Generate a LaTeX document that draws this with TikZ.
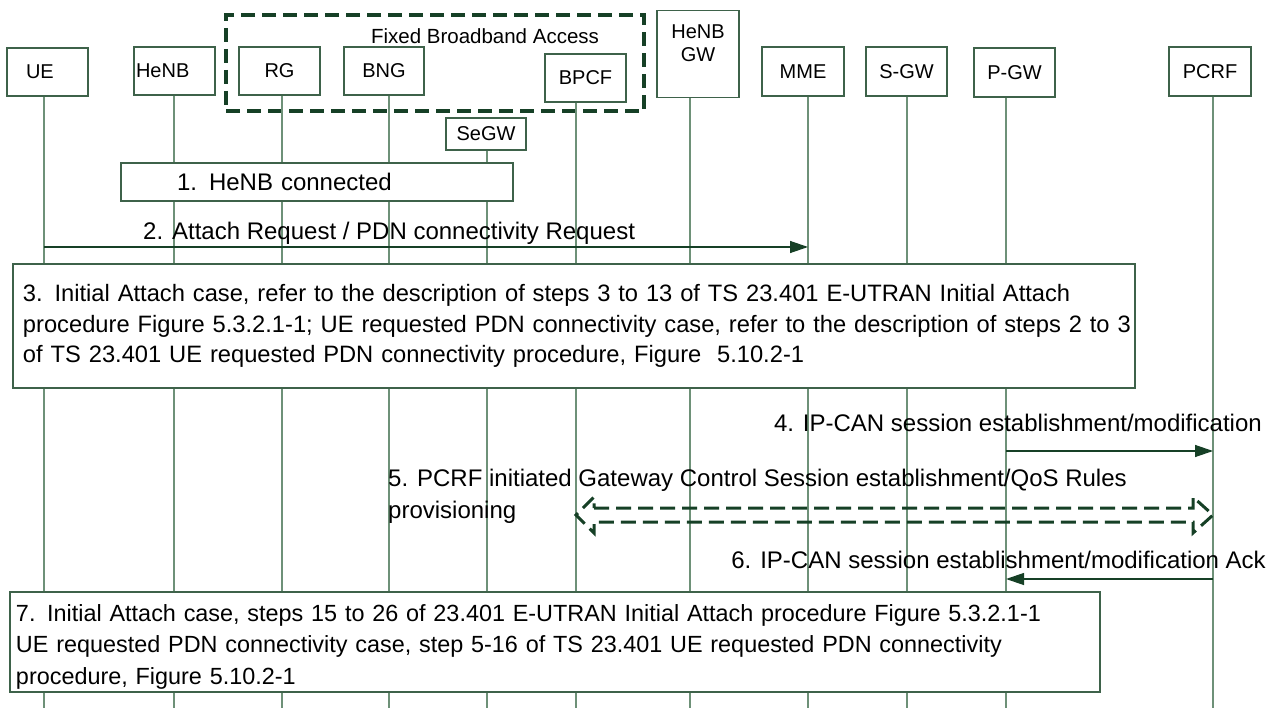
\documentclass[tikz,border=0pt]{standalone}
\usepackage{fontspec}
\setmainfont{Liberation Sans}
\usetikzlibrary{arrows.meta,calc}
\definecolor{lifegreen}{RGB}{110,145,120}
\definecolor{boxgreen}{RGB}{62,98,74}
\definecolor{darkgreen}{RGB}{22,64,38}

\begin{document}
\begin{tikzpicture}[
  x=1pt,y=-1pt,
  head/.style={draw=boxgreen, line width=1.3pt, fill=white, minimum width=81pt, minimum height=48pt, inner sep=0pt, font=\fontsize{20}{23}\selectfont},
  stepbox/.style={draw=boxgreen, line width=1.3pt, fill=white, align=left, inner ysep=0pt, font=\fontsize{23.7}{30.5}\selectfont},
  lbl/.style={inner sep=0pt, font=\fontsize{24}{32}\selectfont},
  life/.style={draw=lifegreen, line width=1.3pt},
  msg/.style={draw=darkgreen, line width=1.3pt, -{Triangle[length=18pt,width=12pt]}},
  fba/.style={draw=darkgreen, line width=3.5pt, dash pattern=on 14pt off 7pt},
  gcdash/.style={draw=darkgreen, line width=3pt, dash pattern=on 15pt off 7pt, line join=miter}
]
\useasboundingbox (0,0) rectangle (1276,708);

% fixed broadband access domain
\node[fba, minimum width=418pt, minimum height=96pt] (fbabox) at (435,63) {};
\node[inner sep=0pt, font=\fontsize{20.5}{23}\selectfont] (fbatxt) at (485,36) {Fixed Broadband Access};

% entities
\node[head, text width=43pt, align=left] (ue) at (47.5,72) {UE};
\node[head, text width=77pt, align=left] (henb) at (174.5,71) {HeNB};
\node[head] (rg) at (279.5,71) {RG};
\node[head, minimum width=80pt] (bng) at (384,71) {BNG};
\node[head, minimum width=80pt, minimum height=32pt] (segw) at (486,134) {SeGW};
\node[head] (bpcf) at (585.5,78) {BPCF};
\node[head, minimum width=82pt, minimum height=87pt, anchor=north, align=center] (henbgw) at (698,10) {HeNB\\GW\\~};
\node[head, minimum width=82pt, minimum height=49pt] (mme) at (803,71.5) {MME};
\node[head, minimum height=49pt] (sgw) at (906.5,71.5) {S-GW};
\node[head, minimum height=49pt] (pgw) at (1014.5,72.5) {P-GW};
\node[head, minimum width=82pt, minimum height=49pt] (pcrf) at (1210,71.5) {PCRF};

% lifelines
\foreach \n/\x in {ue/44,henb/174,rg/282,bng/389,segw/487,bpcf/576,henbgw/690,mme/808,sgw/907,pgw/1006,pcrf/1213}{
  \coordinate (\n-l) at (\x,708);
  \draw[life] (\n-l |- \n.south) -- (\n-l);
}

% 1
\node[stepbox, font=\fontsize{24}{30}\selectfont, text width=280pt, inner xsep=56pt, minimum height=38pt] (s1) at (317,182) {1. HeNB connected};

% 2
\node[lbl, anchor=base west] (m2) at (143,240) {2. Attach Request / PDN connectivity Request};
\draw[msg] (ue-l |- 0,247) -- (mme-l |- 0,247);

% 3
\node[stepbox, text width=1102pt, inner xsep=10pt, minimum height=124pt] (s3) at (574,326) {3. Initial Attach case, refer to the description of steps 3 to 13 of TS 23.401 E-UTRAN Initial Attach\\\mbox{procedure Figure 5.3.2.1-1; UE requested PDN connectivity case, refer to the description of steps 2 to 3}\\of TS 23.401 UE requested PDN connectivity procedure, Figure~~5.10.2-1};

% 4
\node[lbl, anchor=base east] (m4) at (1262,431) {4. IP-CAN session establishment/modification};
\draw[msg] (pgw-l |- 0,451) -- (pcrf-l |- 0,451);

% 5
\node[lbl, anchor=base west, align=left] (m5) at (388,518) {5. PCRF initiated Gateway Control Session establishment/QoS Rules\\provisioning};
\coordinate (g5a) at (bpcf-l |- 0,515);
\coordinate (g5b) at (pcrf-l |- 0,515);
\draw[gcdash] ($(g5a)+(18,-7)$) -- ($(g5b)+(-20,-7)$) -- ++(0,-11) -- (g5b) -- ++(-20,18) -- ++(0,-11)
  -- ($(g5a)+(18,7)$) -- ++(0,11) -- (g5a) -- ++(18,-18) -- cycle;

% 6
\node[lbl, anchor=base east] (m6) at (1266,568) {6. IP-CAN session establishment/modification Ack};
\draw[msg] (pcrf-l |- 0,579) -- (pgw-l |- 0,579);

% 7
\node[stepbox, text width=1078pt, inner xsep=6pt, minimum height=100pt, font=\fontsize{23.4}{31.5}\selectfont] (s7) at (555,642) {\rule{0pt}{26pt}7. Initial Attach case, steps 15 to 26 of 23.401 E-UTRAN Initial Attach procedure Figure 5.3.2.1-1\\UE requested PDN connectivity case, step 5-16 of TS 23.401 UE requested PDN connectivity\\procedure, Figure 5.10.2-1};
\end{tikzpicture}
\end{document}
